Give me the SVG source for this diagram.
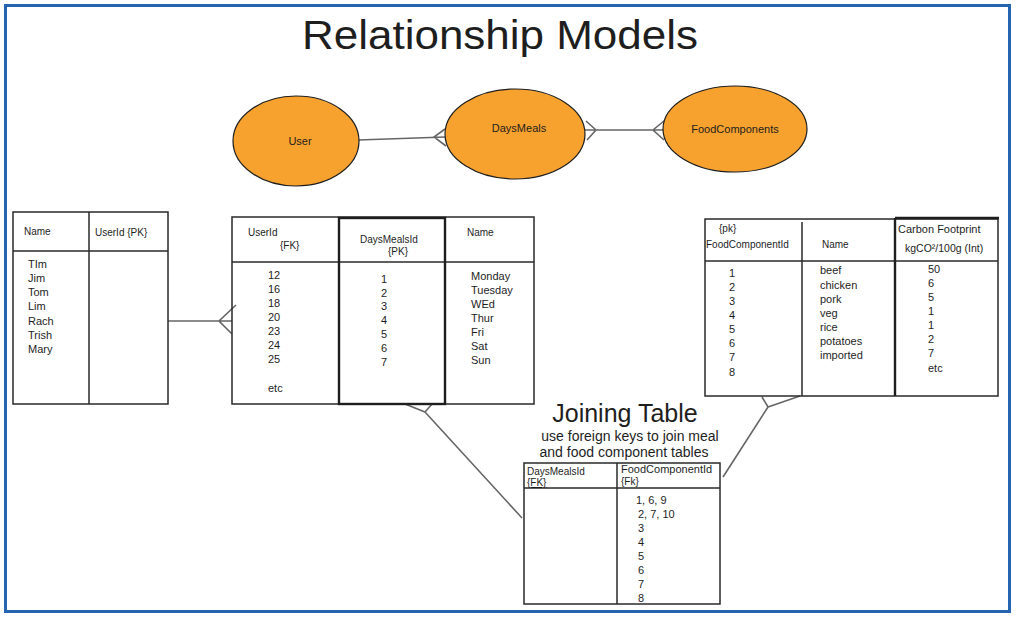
<svg xmlns="http://www.w3.org/2000/svg" width="1017" height="618" viewBox="0 0 1017 618">
<style>
text{font-family:"Liberation Sans","DejaVu Sans",sans-serif;fill:#1e1e1e}
.t{font-size:11px}
.h{font-size:10px}
.e{fill:#f7a12e;stroke:#1e1e1e;stroke-width:1.2}
.box{fill:none;stroke:#2a2a2a;stroke-width:1.5}
.bold{fill:none;stroke:#1e1e1e;stroke-width:2.4}
.c{fill:none;stroke:#666;stroke-width:1.6}
</style>
<rect x="0" y="0" width="1017" height="618" fill="#ffffff"/>
<rect x="5.5" y="5.5" width="1004" height="606" fill="none" stroke="#2464b0" stroke-width="3"/>
<text x="302" y="49" font-size="40" textLength="396" lengthAdjust="spacingAndGlyphs">Relationship Models</text>

<g id="connectors">
  <path class="c" d="M358 140 L445 137 M445 129 L434 137 L446 146"/>
  <path class="c" d="M585 130 L663 130 M586 121 L596 130 L587 140 M664 121 L653 130 L664 140"/>
  <path class="c" d="M168 321 L232 321 M236 305 L219 321 L232 334"/>
  <path class="c" d="M522 518 L425 412 M405 404 L425 412 L432 404"/>
  <path class="c" d="M723 477 L768 407 M762 397 L768 407 L800 396"/>
</g>

<g id="user">
  <ellipse class="e" cx="296" cy="141" rx="63" ry="45"/>
  <text x="300" y="145" class="t" text-anchor="middle">User</text>
</g>
<g id="daysmeals">
  <ellipse class="e" cx="515" cy="134" rx="70" ry="45"/>
  <text x="519" y="132" class="t" text-anchor="middle">DaysMeals</text>
</g>
<g id="foodcomponents">
  <ellipse class="e" cx="735" cy="129" rx="72" ry="43"/>
  <text x="735" y="133" class="t" text-anchor="middle">FoodComponents</text>
</g>

<g id="users-table">
  <rect class="box" x="13" y="212" width="155" height="192"/>
  <line class="box" x1="13" y1="251" x2="168" y2="251"/>
  <line class="box" x1="89" y1="212" x2="89" y2="404"/>
  <text x="24" y="235" class="h">Name</text>
  <text x="95" y="236" class="h">UserId {PK}</text>
  <g class="t">
    <text x="28" y="268">TIm</text>
    <text x="28" y="282">Jim</text>
    <text x="28" y="296">Tom</text>
    <text x="28" y="310">Lim</text>
    <text x="28" y="325">Rach</text>
    <text x="28" y="339">Trish</text>
    <text x="28" y="353">Mary</text>
  </g>
</g>

<g id="daysmeals-table">
  <rect class="box" x="232" y="217" width="302" height="187"/>
  <line class="box" x1="232" y1="262" x2="534" y2="262"/>
  <rect class="bold" x="339" y="218" width="106" height="186"/>
  <text x="248" y="236" class="h">UserId</text>
  <text x="280" y="249" class="h">{FK}</text>
  <text x="360" y="243" class="h">DaysMealsId</text>
  <text x="388" y="255" class="h">{PK}</text>
  <text x="467" y="236" class="h">Name</text>
  <g class="t">
    <text x="268" y="279">12</text>
    <text x="268" y="293">16</text>
    <text x="268" y="307">18</text>
    <text x="268" y="321">20</text>
    <text x="268" y="335">23</text>
    <text x="268" y="349">24</text>
    <text x="268" y="363">25</text>
    <text x="268" y="392">etc</text>
    <text x="381" y="283">1</text>
    <text x="381" y="297">2</text>
    <text x="381" y="310">3</text>
    <text x="381" y="324">4</text>
    <text x="381" y="338">5</text>
    <text x="381" y="352">6</text>
    <text x="381" y="366">7</text>
    <text x="471" y="280">Monday</text>
    <text x="471" y="294">Tuesday</text>
    <text x="471" y="308">WEd</text>
    <text x="471" y="322">Thur</text>
    <text x="471" y="336">Fri</text>
    <text x="471" y="350">Sat</text>
    <text x="471" y="364">Sun</text>
  </g>
</g>

<g id="foodcomponents-table">
  <rect class="box" x="705" y="219" width="293" height="177"/>
  <line class="box" x1="705" y1="261" x2="998" y2="261"/>
  <line class="box" x1="802" y1="222" x2="802" y2="396"/>
  <line class="bold" x1="895" y1="218" x2="895" y2="396"/>
  <line class="bold" x1="895" y1="218" x2="999" y2="218"/>
  <text x="719" y="232" class="h">{pk}</text>
  <text x="706" y="248" class="h">FoodComponentId</text>
  <text x="822" y="248" class="h">Name</text>
  <text x="898" y="233" font-size="11">Carbon Footprint</text>
  <text x="905" y="252" font-size="10.5">kgCO²/100g (Int)</text>
  <g class="t">
    <text x="729" y="277">1</text>
    <text x="729" y="291">2</text>
    <text x="729" y="305">3</text>
    <text x="729" y="319">4</text>
    <text x="729" y="333">5</text>
    <text x="729" y="347">6</text>
    <text x="729" y="361">7</text>
    <text x="729" y="376">8</text>
    <text x="820" y="274">beef</text>
    <text x="820" y="289">chicken</text>
    <text x="820" y="303">pork</text>
    <text x="820" y="317">veg</text>
    <text x="820" y="331">rice</text>
    <text x="820" y="345">potatoes</text>
    <text x="820" y="359">imported</text>
    <text x="928" y="273">50</text>
    <text x="928" y="287">6</text>
    <text x="928" y="301">5</text>
    <text x="928" y="315">1</text>
    <text x="928" y="329">1</text>
    <text x="928" y="343">2</text>
    <text x="928" y="357">7</text>
    <text x="928" y="372">etc</text>
  </g>
</g>

<g id="joining-table">
  <text x="625" y="422" font-size="25" text-anchor="middle">Joining Table</text>
  <text x="630" y="441" font-size="14" text-anchor="middle">use foreign keys to join meal</text>
  <text x="624" y="457" font-size="14" text-anchor="middle">and food component tables</text>
  <rect class="box" x="524" y="463" width="196" height="141"/>
  <line class="box" x1="524" y1="488" x2="720" y2="488"/>
  <line class="box" x1="617" y1="463" x2="617" y2="604"/>
  <text x="527" y="475" class="h">DaysMealsId</text>
  <text x="527" y="486" class="h" text-decoration="underline">{FK}</text>
  <text x="621" y="473" font-size="11">FoodComponentId</text>
  <text x="621" y="485" class="h">{Fk}</text>
  <g class="t">
    <text x="636" y="504">1, 6, 9</text>
    <text x="638" y="518">2, 7, 10</text>
    <text x="638" y="532">3</text>
    <text x="638" y="546">4</text>
    <text x="638" y="560">5</text>
    <text x="638" y="574">6</text>
    <text x="638" y="588">7</text>
    <text x="638" y="602">8</text>
  </g>
</g>
</svg>
